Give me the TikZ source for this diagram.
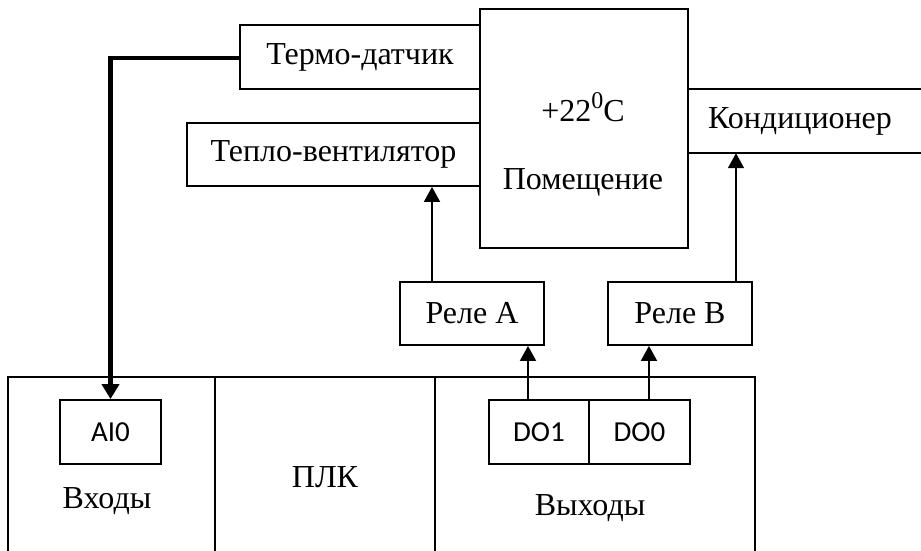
\documentclass[tikz,border=0pt]{standalone}
\usepackage{fontspec}
\setmainfont{Liberation Serif}
\newfontfamily\lblsans{Carlito}
\usetikzlibrary{arrows.meta}
\tikzset{
  box/.style={draw, line width=1.8pt, inner sep=0pt, font=\fontsize{32}{38}\selectfont},
  pin/.style={draw, line width=1.8pt, inner sep=0pt, minimum width=101pt, minimum height=64pt, font=\lblsans\fontsize{29}{34}\selectfont},
  lbl/.style={inner sep=0pt, font=\fontsize{32}{38}\selectfont},
  thin/.style={line width=1.8pt},
  sig/.style={line width=1.8pt, -{Triangle[width=16pt,length=15pt]}},
  thick sig/.style={line width=4.5pt, -{Triangle[width=17pt,length=15pt]}},
}
\begin{document}
\begin{tikzpicture}[x=1pt,y=-1pt]
\useasboundingbox (0,0) rectangle (921,550);
% room
\node[box, minimum width=208pt, minimum height=239pt] (room) at (584,128.5) {};
\node[lbl] (temp) at (583,107) {+22\raisebox{0.9ex}{\fontsize{24}{28}\selectfont 0}C};
\node[lbl] (roomlbl) at (583,182) {Помещение};
% sensor, heater, conditioner
\node[box, minimum width=240pt, minimum height=64pt] (thermo) at (360,57) {Термо-датчик};
\node[box, minimum width=293pt, minimum height=63pt] (heater) at (333.5,154.5) {Тепло-вентилятор};
\node[lbl, minimum width=242pt, minimum height=64pt] (cond) at (809,121) {};
\node[lbl] (condlbl) at (800,121) {Кондиционер};
\draw[thin] (cond.north west) -- (cond.north east);
\draw[thin] (cond.south west) -- (cond.south east);
% relays
\node[box, minimum width=144pt, minimum height=63pt] (releA) at (472,313.5) {Реле A};
\node[box, minimum width=144pt, minimum height=63pt] (releB) at (680,313.5) {Реле B};
% PLC
\coordinate (p1) at (8,551);
\coordinate (p2) at (8,377);
\coordinate (p3) at (755,377);
\coordinate (p4) at (755,551);
\draw[thin] (p1) -- (p2) -- (p3) -- (p4);
\coordinate (d1t) at (215,377); \coordinate (d1b) at (215,551);
\coordinate (d2t) at (435,377); \coordinate (d2b) at (435,551);
\draw[thin] (d1t) -- (d1b);
\draw[thin] (d2t) -- (d2b);
\node[pin] (ai0) at (110.5,432) {AI0};
\node[pin, minimum width=100pt] (do1) at (539,432) {DO1};
\node[pin] (do0) at (639.5,432) {DO0};
\node[lbl] (inputs) at (107,501) {Входы};
\node[lbl] (plc) at (325,477) {ПЛК};
\node[lbl] (outputs) at (590,508) {Выходы};
% connectors
\coordinate (bend) at (110.5,58);
\draw[thick sig] (thermo.west |- 0,58) -- (bend) -- (ai0.north);
\draw[sig] (releA.north -| 432,0) -- (heater.south -| 432,0);
\draw[sig] (releB.north -| 736,0) -- (cond.south -| 736,0);
\draw[sig] (do1.north -| 528,0) -- (releA.south -| 528,0);
\draw[sig] (do0.north -| 649,0) -- (releB.south -| 649,0);
\end{tikzpicture}
\end{document}
